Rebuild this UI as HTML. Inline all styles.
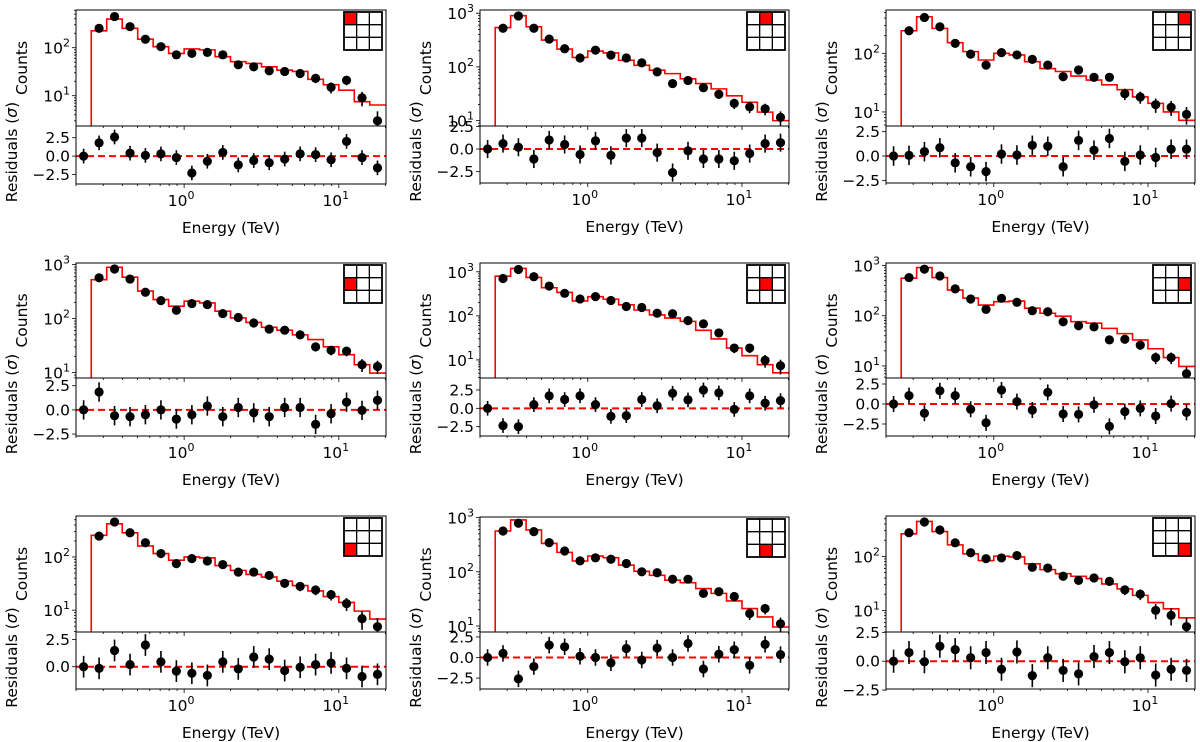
<!DOCTYPE html>
<html><head><meta charset="utf-8">
<style>
html,body{margin:0;padding:0;background:#fff;}
svg{display:block;font-family:"DejaVu Sans","Liberation Sans",sans-serif;}
</style></head>
<body>
<svg id="fig" width="1200" height="742" viewBox="0 0 1200 742" xmlns="http://www.w3.org/2000/svg"></svg>
<script>
// Energy bin centers (TeV) and bin edges
const energyCenters = [0.224,0.282,0.355,0.447,0.562,0.708,0.891,1.122,1.413,1.778,2.239,2.818,3.548,4.467,5.623,7.079,8.913,11.22,14.13,17.78];
const energyEdges = [0.2,0.251,0.316,0.398,0.501,0.631,0.794,1.0,1.259,1.585,1.995,2.512,3.162,3.981,5.012,6.310,7.943,10.0,12.59,15.85,19.95];
const xTickLabels = ["0","1"];
const resTickValues = [2.5,0.0,-2.5];
const resTickLabels = ["2.5","0.0","\u22122.5"];

// Counts (bins 1..19)
const counts1 = [253,445,274,150,105,71,76,80,71,44,40,33,32,29,23,15,21,9,3];
const counts2 = [525,890,525,330,218,147,205,166,147,119,81,49,56,41,31,21,18,16.6,11.5];
const counts3 = [243,410,284,148,97,63,103,94,79,63,40,52,39,39,20.4,18,13.3,12,9.1];
const counts4 = [570,830,540,308,215,143,190,182,124,105,83,64,61,50,30,26,25,14,13];
const counts5 = [705,1130,775,475,325,242,273,223,163,155,115,112,78,66,41,18.6,18.6,9.8,7.4];
const counts6 = [575,845,620,342,215,134,222,185,126,120,76,63,60,33,34,26,14.7,14.7,7.0];
const counts7 = [247,455,285,185,116,75,93,84,72,52,52,45,32,28,24,19.6,13.3,6.9,4.9];
const counts8 = [565,785,550,345,242,159,181,170,142,100,96,73,73,40,43,35,17,21,11];
const counts9 = [275,435,310,179,117,91,94,104,63,61,43,36,40,34.5,24,20,10,8.1,5.0];

// Model (bins 1..19)
const model1 = [225,395,253,150,105,76,94,90,65,51,47,40,34,32,22,17,13,7.5,6.4];
const model2 = [540,900,560,316,215,150,197,182,133,107,87,75,60,49,39,29,22,14.4,10];
const model3 = [243,420,267,152,107,77,100,94,72,55,49,41,35,29,24,18,14,10,7.2];
const model4 = [525,890,585,324,225,170,210,195,137,103,85,69,61,50,41,30,21.5,14,9.8];
const model5 = [795,1190,745,435,340,218,273,240,178,136,105,89,75,47,30,18.6,12.5,7.8,5.1];
const model6 = [560,910,575,325,225,163,190,196,141,112,98,76,71,56,44,33,22,14.7,9.8];
const model7 = [255,420,285,161,116,87,100,96,69,56,47,42,35,29,23,18,14,9.6,6.8];
const model8 = [565,905,590,333,228,158,195,182,133,102,86,70,63,49,40,29,21,14.7,9.6];
const model9 = [263,445,290,164,112,84,101,98,73,57,48,43,39,31,25,19,14,10.7,7.3];

// Residuals (bins 0..19)
const resid1 = [0,1.8,2.6,0.4,0.1,0.3,-0.2,-2.3,-0.7,0.5,-1.2,-0.6,-0.9,-0.4,0.3,0.2,-0.5,2.0,-0.2,-1.6];
const resid2 = [0,0.6,0.2,-1.1,1.0,0.5,-0.6,0.9,-0.7,1.2,1.2,-0.4,-2.6,-0.2,-1.1,-1.1,-1.3,-0.5,0.6,0.7];
const resid3 = [0,0.07,0.45,0.85,-0.7,-1.1,-1.6,0.2,0.1,1.1,1.0,-1.1,1.6,0.6,1.8,-0.55,0.1,-0.15,0.7,0.7];
const resid4 = [0,1.85,-0.6,-0.7,-0.5,0,-0.95,-0.5,0.4,-0.7,0.25,-0.3,-0.7,0.25,0.25,-1.5,-0.4,0.8,-0.05,1.0];
const resid5 = [0,-2.35,-2.5,0.5,1.7,1.2,1.7,0.5,-1.1,-1.0,1.2,0.35,2.05,1.15,2.5,2.1,-0.15,1.7,0.7,1.05];
const resid6 = [0,1.05,-1.15,1.65,1.05,-0.65,-2.35,1.75,0.3,-0.75,1.45,-1.25,-1.3,-0.1,-2.8,-0.95,-0.55,-1.5,0.05,-1.05];
const resid7 = [0,-0.15,1.5,0.2,2.0,0.45,-0.4,-0.6,-0.8,0.45,-0.2,0.9,0.7,-0.35,-0.05,0.2,0.35,-0.15,-0.9,-0.7];
const resid8 = [0,0.5,-2.6,-1.1,1.5,1.3,0.15,0,-0.65,1.1,-0.3,1.15,0,1.7,-1.4,0.4,0.95,-0.95,1.6,0.35];
const resid9 = [0,0.75,-0.05,1.3,1.0,0.3,0.75,-0.7,0.8,-1.25,0.3,-0.8,-1.1,0.4,0.75,-0.05,0.3,-1.2,-0.7,-0.8];

const allCounts=[counts1,counts2,counts3,counts4,counts5,counts6,counts7,counts8,counts9];
const allModels=[model1,model2,model3,model4,model5,model6,model7,model8,model9];
const allResid=[resid1,resid2,resid3,resid4,resid5,resid6,resid7,resid8,resid9];
const highlightCell=[[0,0],[0,1],[0,2],[1,0],[1,1],[1,2],[2,0],[2,1],[2,2]];

// layout (geometry, not data)
const layout=[
 {l:76,r:386,t:10,m:126,b:184,ylo:0.369,yhi:2.785,rlo:-3.8,rhi:4.1},
 {l:480,r:789,t:10,m:126,b:183,ylo:0.9,yhi:3.06,rlo:-3.75,rhi:2.54},
 {l:886,r:1195,t:10,m:126,b:183,ylo:0.76,yhi:2.74,rlo:-2.77,rhi:3.08},
 {l:76,r:386,t:263,m:378,b:436,ylo:0.9,yhi:3.03,rlo:-2.7,rhi:3.3},
 {l:480,r:789,t:263,m:378,b:436,ylo:0.59,yhi:3.2,rlo:-3.77,rhi:4.13},
 {l:886,r:1195,t:263,m:378,b:436,ylo:0.76,yhi:3.05,rlo:-4.0,rhi:3.25},
 {l:76,r:386,t:516,m:632,b:689,ylo:0.59,yhi:2.77,rlo:-2.05,rhi:3.2},
 {l:480,r:789,t:517,m:632,b:689,ylo:0.89,yhi:3.01,rlo:-3.83,rhi:3.1},
 {l:886,r:1195,t:516,m:632,b:689,ylo:0.6,yhi:2.75,rlo:-2.41,rhi:2.53}
];
const XLO=Math.log10(0.2), XHI=1.305;
const FS=15.5;
const NS="http://www.w3.org/2000/svg";
const fig=document.getElementById('fig');
function mk(tag,attrs,parent){const e=document.createElementNS(NS,tag);for(const k in attrs)e.setAttribute(k,attrs[k]);(parent||fig).appendChild(e);return e;}

layout.forEach((L,p)=>{
  const g=mk('g',{});
  
  
  const xs=v=>L.l+(Math.log10(v)-XLO)/(XHI-XLO)*(L.r-L.l);
  const ys=v=>L.m-(Math.log10(v)-L.ylo)/(L.yhi-L.ylo)*(L.m-L.t);
  const rs=v=>L.b-(v-L.rlo)/(L.rhi-L.rlo)*(L.b-L.m);
  const cid='c'+p, rid='r'+p;
  const cp=mk('clipPath',{id:cid},g); mk('rect',{x:L.l,y:L.t,width:L.r-L.l,height:L.m-L.t},cp);
  const rp=mk('clipPath',{id:rid},g); mk('rect',{x:L.l,y:L.m,width:L.r-L.l,height:L.b-L.m},rp);
  const cg=mk('g',{'clip-path':'url(#'+cid+')'},g);
  const rg=mk('g',{'clip-path':'url(#'+rid+')'},g);
  const cnt=allCounts[p], mod=allModels[p], res=allResid[p];
  let d='M'+xs(energyEdges[1])+','+(L.m+5);
  mod.forEach((v,i)=>{d+=' L'+xs(energyEdges[i+1])+','+ys(v)+' L'+xs(energyEdges[i+2])+','+ys(v);});
  d+=' L'+(L.r+5)+','+ys(mod[mod.length-1]);
  const ml=mk('path',{d:d,fill:'none',stroke:'#ff0000','stroke-width':1.6},cg);
  
  
  cnt.forEach((v,i)=>{
    const x=xs(energyCenters[i+1]);const e=Math.sqrt(v);
    const lo=Math.max(v-e,0.01);
    mk('line',{x1:x,x2:x,y1:ys(v+e),y2:ys(lo),stroke:'#000','stroke-width':1.6},cg);
    const c=mk('circle',{cx:x,cy:ys(v),r:4.6,fill:'#000'},cg);
    
    
  });
  const zl=mk('line',{x1:L.l,x2:L.r,y1:rs(0),y2:rs(0),stroke:'#ff0000','stroke-width':2,'stroke-dasharray':'7,4'},rg);
  
  
  res.forEach((v,i)=>{
    const x=xs(energyCenters[i]);
    mk('line',{x1:x,x2:x,y1:rs(v+1),y2:rs(v-1),stroke:'#000','stroke-width':1.6},rg);
    const c=mk('circle',{cx:x,cy:rs(v),r:4.6,fill:'#000'},rg);
    
    
  });
  mk('rect',{x:L.l,y:L.t,width:L.r-L.l,height:L.m-L.t,fill:'none',stroke:'#000','stroke-width':1},g);
  mk('rect',{x:L.l,y:L.m,width:L.r-L.l,height:L.b-L.m,fill:'none',stroke:'#000','stroke-width':1},g);
  for(let dec=-1;dec<=4;dec++){
    for(let k=1;k<10;k++){
      const v=k*Math.pow(10,dec);const lv=Math.log10(v);
      if(lv<L.ylo-1e-9||lv>L.yhi+1e-9)continue;
      const y=ys(v);
      mk('line',{x1:L.l-(k===1?4:2),x2:L.l,y1:y,y2:y,stroke:'#000','stroke-width':0.8},g);
      if(k===1){
        const t=mk('text',{x:L.l-6,y:y+6,'text-anchor':'end','font-size':FS},g);
        
        
        const a=mk('tspan',{},t);a.textContent='10';
        const b=mk('tspan',{dy:-7,'font-size':11},t);b.textContent=String(dec);
      }
    }
  }
  resTickValues.forEach((v,i)=>{
    if(v<L.rlo-0.2||v>L.rhi+0.2)return;
    const y=rs(v);
    mk('line',{x1:L.l-4,x2:L.l,y1:y,y2:y,stroke:'#000','stroke-width':0.8},g);
    const t=mk('text',{x:L.l-6,y:y+5.5,'text-anchor':'end','font-size':FS},g);
    t.textContent=resTickLabels[i];
    
    
  });
  for(let dec=-1;dec<=1;dec++){
    for(let k=1;k<10;k++){
      const v=k*Math.pow(10,dec);const lv=Math.log10(v);
      if(lv<XLO-1e-9||lv>XHI)continue;
      const x=xs(v);
      mk('line',{x1:x,x2:x,y1:L.b,y2:L.b+(k===1?4:2),stroke:'#000','stroke-width':0.8},g);
      mk('line',{x1:x,x2:x,y1:L.m,y2:L.m+(k===1?4:2),stroke:'#000','stroke-width':0.8},g);
      if(k===1&&dec>=0){
        const t=mk('text',{x:x-3,y:L.b+22,'text-anchor':'middle','font-size':FS},g);
        
        
        const a=mk('tspan',{},t);a.textContent='10';
        const b=mk('tspan',{dy:-7,'font-size':11},t);b.textContent=xTickLabels[dec];
      }
    }
  }
  const cy=(L.t+L.m)/2;
  const cx=L.l-49;
  const cl=mk('text',{x:cx,y:cy,'text-anchor':'middle','font-size':FS,transform:'rotate(-90 '+cx+' '+cy+')'},g);
  cl.textContent='Counts';
  
  
  const ry=(L.m+L.b)/2-3, rx=L.l-59;
  const rl=mk('text',{x:rx,y:ry,'text-anchor':'middle','font-size':FS,transform:'rotate(-90 '+rx+' '+ry+')'},g);
  const r1=mk('tspan',{},rl);r1.textContent='Residuals (';
  const r2=mk('tspan',{'font-style':'italic'},rl);r2.textContent='\u03c3';
  const r3=mk('tspan',{},rl);r3.textContent=')';
  
  
  const xl=mk('text',{x:(L.l+L.r)/2,y:L.b+49,'text-anchor':'middle','font-size':FS},g);
  xl.textContent='Energy (TeV)';
  
  
  const gs=38, gx=L.r-gs-4, gy=L.t+2, cs=gs/3;
  const ig=mk('g',{},g);
  
  
  mk('rect',{x:gx,y:gy,width:gs,height:gs,fill:'#fff'},ig);
  const hc=highlightCell[p];
  mk('rect',{x:gx+hc[1]*cs,y:gy+hc[0]*cs,width:cs,height:cs,fill:'#ff0000'},ig);
  for(let i=1;i<3;i++){
    mk('line',{x1:gx+i*cs,x2:gx+i*cs,y1:gy,y2:gy+gs,stroke:'#000','stroke-width':1.3},ig);
    mk('line',{x1:gx,x2:gx+gs,y1:gy+i*cs,y2:gy+i*cs,stroke:'#000','stroke-width':1.3},ig);
  }
  mk('rect',{x:gx,y:gy,width:gs,height:gs,fill:'none',stroke:'#000','stroke-width':1.8},ig);
});
</script>
</body></html>
